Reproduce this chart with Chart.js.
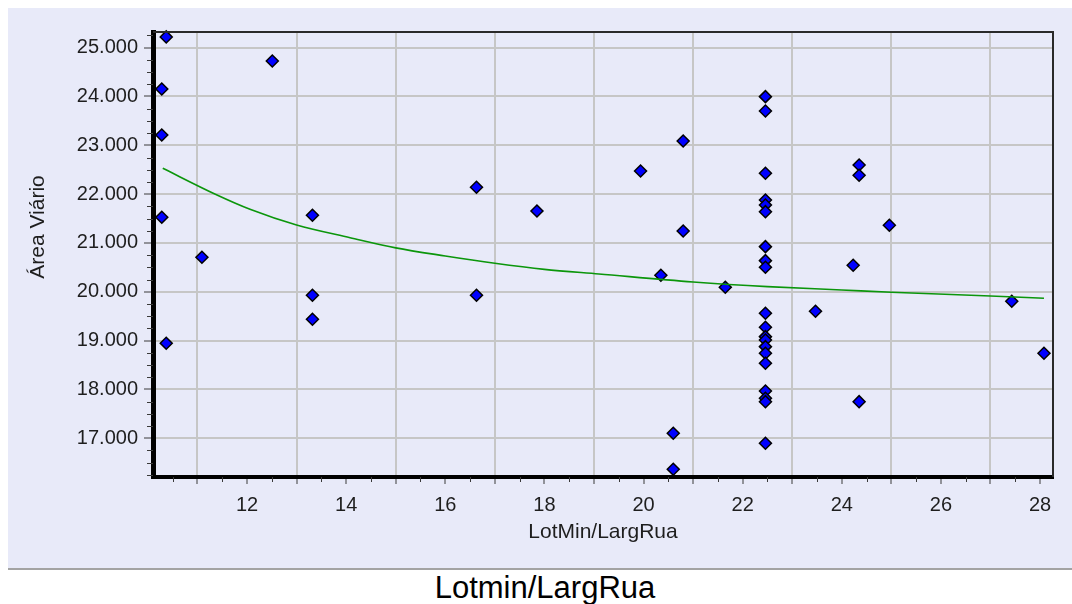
<!DOCTYPE html>
<html>
<head>
<meta charset="utf-8">
<script src="https://cdn.jsdelivr.net/npm/chart.js@4/dist/chart.umd.min.js"></script>
<style>
    html, body { margin: 0; padding: 0; background: #ffffff; }
    body { width: 1072px; height: 604px; position: relative; overflow: hidden; }
    #panel {
        position: absolute; left: 8px; top: 8px; width: 1064px; height: 560px;
        background: #e8eaf9; border-bottom: 2px solid #a3a3a3;
    }
    #panel canvas { position: absolute; left: 0; top: 0; }
    #caption {
        position: absolute; left: 345px; top: 572px; width: 400px;
        text-align: center; font: 31px "Liberation Sans", Arial, sans-serif;
        line-height: 31px; color: #000;
    }
</style>
</head>
<body>
<div id="panel"><canvas id="scatterChart" width="1064" height="560"></canvas></div>
<div id="caption">Lotmin/LargRua</div>
<script>
// values
const lotMin = [
    10.37, 10.28, 10.28, 10.28, 10.37, 11.09, 12.51, 13.32, 13.32, 13.32,
    16.63, 16.63, 17.85, 19.94, 20.80, 20.80, 20.35, 21.65, 20.60, 20.60,
    23.47,
    22.46, 22.46, 22.46, 22.46, 22.46, 22.46, 22.46, 22.46, 22.46, 22.46,
    22.46, 22.46, 22.46, 22.46, 22.46, 22.46, 22.46, 22.46, 22.46, 22.46,
    24.35, 24.35, 24.96, 24.23, 27.43, 28.08, 24.35,
];
const areaViario = [
    25220, 24154, 23212, 21527, 18946, 20708, 24728, 21568, 19929, 19438,
    22141, 19929, 21656, 22475, 23089, 21246, 20339, 20093, 17103, 16366,
    19602,
    23997, 23704, 22428, 21881, 21779, 21641, 20925, 20638, 20503, 19561,
    19274, 19082, 19014, 18877, 18741, 18537, 17969, 17820, 17750, 16898,
    22598, 22387, 21363, 20544, 19806, 18742, 17750,
];

// fitted curve
const trendX = [10.30, 11.35, 12.06, 13.0, 14.08, 15.0, 16.0, 17.0, 18.0, 19.1, 21.0, 22.5, 24.0, 25.0, 27.0, 28.08];
const trendY = [22530, 22004, 21691, 21369, 21109, 20900, 20734, 20585, 20460, 20365, 20202, 20106, 20038, 19991, 19915, 19868];

const xTickValues = [11, 12, 13, 14, 15, 16, 17, 18, 19, 20, 21, 22, 23, 24, 25, 26, 27, 28];
const yTickValues = [17000, 18000, 19000, 20000, 21000, 22000, 23000, 24000, 25000];

const xTitle = "LotMin/LargRua";
const yTitle = "Área Viário";

const FONT = "'Liberation Sans', Arial, sans-serif";
const INK = "#1e1e1e";

function formatThousands(v) {
    return String(Math.round(v)).replace(/\B(?=(\d{3})+(?!\d))/g, ".");
}

// minor ticks, top/right frame and the rotated y title
const framePlugin = {
    id: "frame",
    afterDraw(chart) {
        const { ctx, chartArea, scales } = chart;
        const x = scales.x;
        const y = scales.y;
        ctx.save();

        ctx.strokeStyle = "#3a3a3a";
        ctx.lineWidth = 1;
        for (let v = Math.ceil(y.min / 250) * 250; v <= y.max; v += 250) {
            if (v % 1000 === 0) continue;
            const py = Math.round(y.getPixelForValue(v)) + 0.5;
            ctx.beginPath();
            ctx.moveTo(chartArea.left - 6, py);
            ctx.lineTo(chartArea.left, py);
            ctx.stroke();
        }
        for (let v = Math.ceil(x.min) - 0.5; v <= x.max; v += 1) {
            const px = Math.round(x.getPixelForValue(v)) + 0.5;
            ctx.beginPath();
            ctx.moveTo(px, chartArea.bottom);
            ctx.lineTo(px, chartArea.bottom + 5);
            ctx.stroke();
        }

        ctx.strokeStyle = "#2a2a2a";
        ctx.lineWidth = 2;
        ctx.beginPath();
        ctx.moveTo(chartArea.left, chartArea.top);
        ctx.lineTo(chartArea.right, chartArea.top);
        ctx.lineTo(chartArea.right, chartArea.bottom);
        ctx.stroke();

        ctx.translate(chartArea.left - 115, chartArea.top + 195);
        ctx.rotate(-Math.PI / 2);
        ctx.fillStyle = INK;
        ctx.font = "21px " + FONT;
        ctx.textAlign = "center";
        ctx.textBaseline = "middle";
        ctx.fillText(yTitle, 0, 0);
        ctx.restore();
    },
};

const points = lotMin.map((x, i) => ({ x: x, y: areaViario[i] }));
const trend = trendX.map((x, i) => ({ x: x, y: trendY[i] }));

const CONFIG = {
    type: "scatter",
    data: {
        datasets: [
            {
                label: "Tendência",
                data: trend,
                showLine: true,
                pointRadius: 0,
                borderColor: "#0b960b",
                borderWidth: 1.6,
                cubicInterpolationMode: "monotone",
                order: 0,
            },
            {
                label: "Área Viário",
                data: points,
                pointStyle: "rectRot",
                pointRadius: 6,
                pointBackgroundColor: "#0000ff",
                pointBorderColor: "#000000",
                pointBorderWidth: 1.5,
                clip: false,
                order: 1,
            },
        ],
    },
    options: {
        responsive: false,
        animation: false,
        events: [],
        layout: { padding: { top: 24, right: 19, left: 0, bottom: 0 } },
        plugins: {
            legend: { display: false },
            tooltip: { enabled: false },
        },
        scales: {
            x: {
                type: "linear",
                min: 10.103,
                max: 28.262,
                afterBuildTicks: (scale) => {
                    scale.ticks = xTickValues.map((v) => ({ value: v }));
                },
                afterFit: (scale) => { scale.height = 91; },
                ticks: {
                    autoSkip: false,
                    maxRotation: 0,
                    padding: 9,
                    color: INK,
                    font: { family: FONT, size: 20 },
                    callback: (v) => (v % 2 === 0 ? String(v) : ""),
                },
                grid: {
                    color: (c) => (c.tick && c.tick.value % 2 === 1 ? "#c6c6c6" : "rgba(0,0,0,0)"),
                    lineWidth: 2,
                    tickColor: "#3a3a3a",
                    tickWidth: 1,
                    tickLength: 7,
                },
                border: { color: "#000000", width: 4 },
                title: {
                    display: true,
                    text: xTitle,
                    color: INK,
                    font: { family: FONT, size: 21 },
                    padding: { top: 0, bottom: 23 },
                },
            },
            y: {
                type: "linear",
                min: 16207,
                max: 25321,
                afterBuildTicks: (scale) => {
                    scale.ticks = yTickValues.map((v) => ({ value: v }));
                },
                afterFit: (scale) => { scale.width = 145; },
                ticks: {
                    autoSkip: false,
                    padding: 6,
                    color: INK,
                    font: { family: FONT, size: 20 },
                    callback: (v) => formatThousands(v),
                },
                grid: {
                    color: "#c6c6c6",
                    lineWidth: 2,
                    tickColor: "#3a3a3a",
                    tickWidth: 1,
                    tickLength: 9,
                },
                border: { color: "#000000", width: 5 },
            },
        },
    },
    plugins: [framePlugin],
};

const chart = new Chart(document.getElementById("scatterChart"), CONFIG);
</script>
</body>
</html>
